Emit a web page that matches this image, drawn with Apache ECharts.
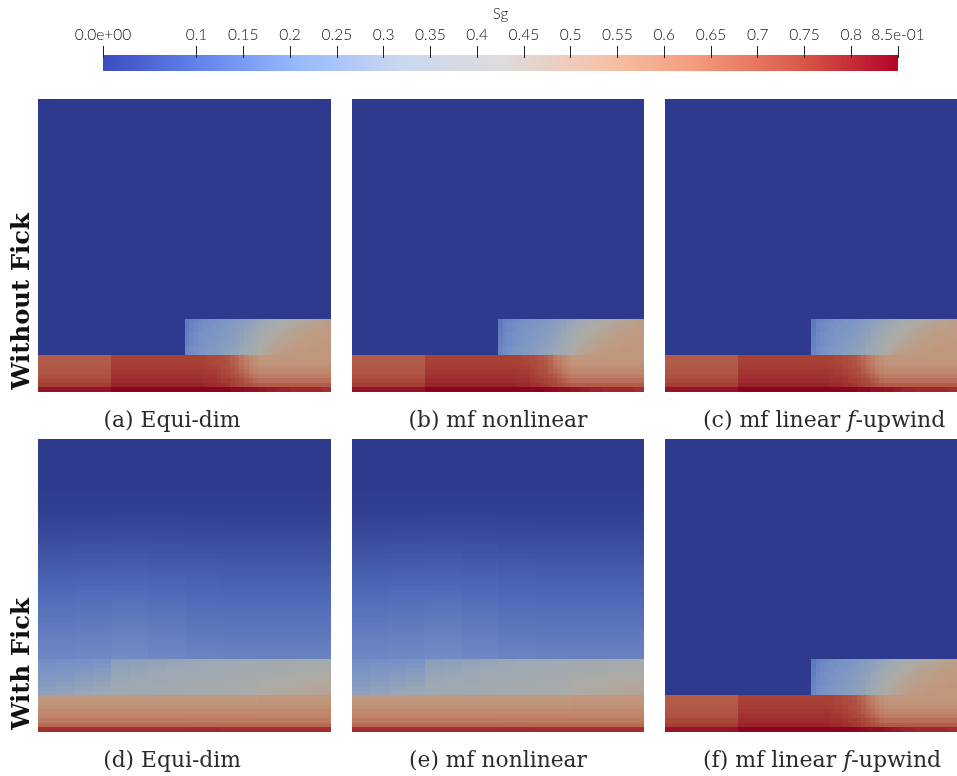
<!DOCTYPE html>
<html><head><meta charset="utf-8">
<style>html,body{margin:0;padding:0;background:#fff}#c{width:957px;height:776px}</style>
<script src="https://cdn.jsdelivr.net/npm/echarts@6/dist/echarts.min.js"></script>
</head><body><div id="c"></div>
<script>
// colour bar
const sgMax = 0.85;
const barTicks = [0,0.1,0.15,0.2,0.25,0.3,0.35,0.4,0.45,0.5,0.55,0.6,0.65,0.7,0.75,0.8,0.85];
const barLabels = ['0.0e+00','0.1','0.15','0.2','0.25','0.3','0.35','0.4','0.45','0.5','0.55','0.6','0.65','0.7','0.75','0.8','8.5e-01'];
const barColors = ['#3b4cc0','#6485ec','#9abbff','#c9d7f0','#dddcdc','#f5c4ac','#f49a7b','#da5a49','#b40426'];
const panelColors = ['#2e3a8e','#4e68b8','#7892c7','#9ca8b5','#acaba6','#c09a80','#be7860','#aa4639','#8c031e'];

// without Fick: lower-left layer (two coarse columns), top to bottom
const sharpLowerLeft = [
 [.70,.75],[.70,.755],[.705,.76],[.71,.77],[.72,.775],[.74,.785],[.76,.80],[.82,.85]];
// without Fick: upper layer right half
const sharpUpperRight = [
 [.15,.17,.18,.19,.20,.21,.21,.22,.22,.23,.24,.25,.26,.27,.28,.30,.31,.33,.35,.37,.38,.40,.41,.43,.44,.45,.46,.47,.48,.49,.50,.51],
 [.15,.18,.19,.20,.21,.21,.22,.22,.23,.24,.25,.26,.27,.28,.29,.31,.33,.35,.37,.39,.41,.42,.44,.45,.46,.47,.48,.49,.50,.50,.51,.52],
 [.16,.18,.19,.20,.21,.22,.22,.23,.24,.25,.25,.26,.27,.29,.30,.32,.35,.37,.39,.41,.43,.44,.46,.47,.48,.49,.50,.50,.51,.52,.52,.52],
 [.16,.19,.20,.21,.21,.22,.23,.24,.24,.25,.26,.27,.28,.30,.32,.34,.37,.39,.41,.43,.45,.46,.47,.48,.49,.50,.51,.52,.52,.52,.53,.53],
 [.17,.19,.20,.21,.22,.23,.23,.24,.25,.26,.27,.28,.29,.31,.33,.36,.39,.41,.43,.45,.46,.48,.49,.50,.50,.51,.52,.52,.53,.53,.53,.53],
 [.17,.19,.20,.21,.22,.23,.24,.25,.26,.26,.27,.28,.30,.32,.34,.37,.41,.43,.45,.47,.48,.49,.50,.51,.52,.52,.53,.53,.53,.53,.54,.54],
 [.18,.20,.21,.22,.23,.24,.24,.25,.26,.27,.28,.29,.31,.33,.35,.38,.42,.45,.47,.48,.49,.50,.51,.52,.53,.53,.53,.54,.54,.54,.54,.54],
 [.18,.20,.21,.22,.23,.24,.25,.26,.27,.28,.29,.30,.32,.34,.36,.39,.43,.46,.48,.50,.51,.52,.53,.53,.53,.54,.54,.54,.54,.54,.54,.54]];
// without Fick: lower layer right half
const sharpLowerRight = [
 [.75,.75,.75,.75,.75,.74,.74,.73,.72,.71,.69,.67,.64,.61,.58,.56,.54,.54,.54,.54,.54,.54,.54,.54,.54,.54,.54,.54,.54,.54,.54,.54],
 [.755,.755,.755,.75,.75,.745,.74,.735,.73,.72,.70,.68,.65,.62,.59,.57,.55,.55,.55,.55,.55,.55,.55,.55,.55,.55,.55,.55,.55,.55,.55,.55],
 [.76,.76,.76,.76,.755,.75,.75,.74,.73,.72,.71,.69,.66,.64,.61,.59,.57,.57,.57,.57,.57,.57,.57,.57,.57,.57,.57,.57,.57,.57,.57,.57],
 [.77,.77,.77,.77,.765,.76,.76,.75,.74,.73,.72,.70,.68,.66,.63,.61,.59,.59,.59,.59,.59,.59,.59,.59,.59,.59,.59,.59,.59,.59,.59,.59],
 [.775,.775,.775,.775,.77,.77,.77,.76,.75,.74,.73,.72,.70,.68,.66,.64,.62,.62,.62,.62,.62,.62,.62,.62,.62,.62,.62,.62,.62,.62,.62,.62],
 [.785,.785,.785,.785,.78,.78,.78,.77,.76,.76,.75,.74,.73,.71,.69,.67,.66,.66,.66,.66,.66,.66,.66,.66,.66,.66,.66,.66,.66,.66,.66,.66],
 [.80,.80,.80,.80,.795,.79,.79,.78,.78,.77,.76,.75,.74,.73,.72,.71,.70,.70,.70,.70,.70,.70,.70,.70,.70,.70,.70,.70,.70,.70,.70,.70],
 [.85,.85,.85,.85,.85,.85,.85,.85,.85,.85,.84,.84,.84,.83,.83,.83,.82,.82,.81,.81,.80,.80,.80,.79,.79,.79,.79,.79,.79,.79,.78,.78]];

// with Fick: region below the untouched top, above the two layers, eight coarse columns
const fickTop = [
 [.002,.002,.002,.002,.002,.002,.002,.002],
 [.004,.004,.004,.004,.004,.004,.004,.004],
 [.006,.006,.006,.006,.006,.006,.006,.006],
 [.008,.008,.008,.008,.008,.008,.008,.008],
 [.011,.011,.011,.011,.011,.011,.011,.011],
 [.014,.014,.014,.014,.014,.014,.014,.014],
 [.017,.017,.018,.018,.017,.017,.017,.017],
 [.021,.021,.022,.022,.02,.02,.02,.02],
 [.025,.025,.026,.026,.025,.024,.024,.024],
 [.03,.03,.031,.031,.029,.028,.028,.028],
 [.035,.036,.037,.036,.034,.033,.033,.033],
 [.04,.041,.042,.041,.039,.038,.038,.038],
 [.046,.047,.048,.047,.044,.043,.043,.043],
 [.051,.052,.054,.052,.049,.048,.048,.048],
 [.056,.058,.06,.058,.054,.053,.053,.053],
 [.062,.064,.066,.063,.06,.058,.058,.058],
 [.068,.07,.072,.07,.066,.064,.064,.064],
 [.075,.077,.079,.076,.072,.07,.07,.07],
 [.081,.083,.086,.082,.078,.076,.076,.076],
 [.087,.089,.092,.088,.083,.081,.081,.081],
 [.092,.095,.098,.094,.088,.086,.086,.086],
 [.098,.101,.104,.099,.094,.091,.091,.091],
 [.104,.107,.11,.105,.099,.096,.096,.096],
 [.109,.113,.116,.11,.104,.101,.101,.101],
 [.115,.118,.122,.116,.109,.106,.106,.106],
 [.12,.124,.128,.121,.114,.111,.111,.111],
 [.126,.13,.134,.127,.119,.116,.116,.116],
 [.131,.135,.14,.132,.124,.121,.121,.121],
 [.137,.141,.146,.138,.13,.126,.126,.126],
 [.142,.147,.151,.143,.135,.131,.131,.131],
 [.148,.152,.157,.149,.14,.136,.136,.136],
 [.153,.158,.163,.154,.145,.141,.141,.141],
 [.158,.163,.168,.16,.15,.146,.146,.146],
 [.164,.169,.174,.165,.155,.151,.151,.151],
 [.169,.174,.18,.17,.16,.156,.156,.156],
 [.175,.18,.185,.175,.165,.161,.161,.161],
 [.18,.185,.19,.18,.17,.166,.166,.166],
 [.185,.19,.194,.184,.174,.17,.17,.17]];
// with Fick: upper layer, sixteen columns
const fickUpper = [
 [.20,.205,.21,.215,.27,.28,.29,.30,.31,.32,.33,.34,.35,.36,.37,.38],
 [.21,.215,.22,.23,.28,.29,.30,.31,.32,.33,.34,.35,.36,.37,.38,.39],
 [.22,.23,.235,.25,.29,.30,.31,.32,.33,.34,.35,.36,.37,.38,.39,.40],
 [.23,.24,.25,.265,.30,.31,.32,.33,.34,.35,.36,.37,.39,.40,.41,.42],
 [.24,.25,.265,.28,.31,.32,.33,.34,.35,.36,.37,.38,.41,.42,.43,.44],
 [.25,.265,.28,.295,.32,.33,.34,.35,.36,.37,.38,.39,.42,.43,.44,.45],
 [.265,.28,.295,.31,.33,.34,.35,.36,.37,.38,.39,.40,.43,.44,.45,.46],
 [.28,.295,.31,.32,.34,.35,.36,.37,.38,.39,.40,.41,.44,.45,.46,.47]];
// with Fick: lower layer, eight columns
const fickLower = [
 [.53,.53,.53,.53,.53,.53,.54,.54],
 [.54,.54,.54,.54,.54,.54,.55,.55],
 [.56,.56,.56,.56,.56,.56,.565,.565],
 [.58,.58,.58,.58,.58,.58,.585,.585],
 [.60,.60,.60,.60,.605,.605,.605,.605],
 [.63,.63,.63,.63,.63,.635,.635,.635],
 [.67,.67,.67,.67,.67,.67,.67,.67],
 [.78,.78,.78,.78,.785,.78,.78,.78]];

const panelTitles = ['(a) Equi-dim','(b) mf nonlinear','(c) mf linear ','(d) Equi-dim','(e) mf nonlinear','(f) mf linear '];
const rowTitles = ['Without Fick','With Fick'];

// mesh cells: 64 x 64, y measured from the bottom
function block(rows, x0, cw, yTop, ch){
  const out=[];
  rows.forEach((r,i)=>r.forEach((v,j)=>{
    out.push([x0+j*cw, x0+(j+1)*cw, yTop-(i+1)*ch, yTop-i*ch, v]);
  }));
  return out;
}
const sharpCells = [].concat(
  block([[0]],0,64,64,48),
  block([[0]],0,32,16,8),
  block(sharpUpperRight,32,1,16,1),
  block(sharpLowerLeft,0,16,8,1),
  block(sharpLowerRight,32,1,8,1));
const fickCells = [].concat(
  block([[0]],0,64,64,10),
  block(fickTop,0,8,54,1),
  block(fickUpper,0,4,16,1),
  block(fickLower,0,8,8,1));
const panelCells = [sharpCells,sharpCells,sharpCells,fickCells,fickCells,sharpCells];

// colour-bar strip: the scale itself, drawn value by value
const barStrip=[];
for(let k=0;k<200;k++) barStrip.push([sgMax*k/200,sgMax*(k+1)/200,0,1,sgMax*(k+.5)/200]);

const lefts=[38,352,665], widths=[293,292,292], tops=[99,439], size=293;
function renderCell(params, api){
  const a=api.coord([api.value(0),api.value(3)]);
  const b=api.coord([api.value(1),api.value(2)]);
  const x=Math.round(a[0]), y=Math.round(a[1]);
  return {type:'rect',shape:{x:x,y:y,width:Math.round(b[0])-x,height:Math.round(b[1])-y},
    style:{fill:api.visual('color')}};
}
const grid=[],xAxis=[],yAxis=[],series=[];
panelCells.forEach((cells,i)=>{
  grid.push({left:lefts[i%3],top:tops[i<3?0:1],width:widths[i%3],height:size});
  xAxis.push({type:'value',gridIndex:i,min:0,max:64,show:false});
  yAxis.push({type:'value',gridIndex:i,min:0,max:64,show:false});
  series.push({type:'custom',xAxisIndex:i,yAxisIndex:i,data:cells,renderItem:renderCell,
    encode:{x:[0,1],y:[2,3]},silent:true,animation:false});
});
// colour-bar strip (index 6)
grid.push({left:103,top:55,width:795,height:16});
xAxis.push({type:'value',gridIndex:6,min:0,max:sgMax,show:false});
yAxis.push({type:'value',gridIndex:6,min:0,max:1,show:false});
series.push({type:'custom',xAxisIndex:6,yAxisIndex:6,data:barStrip,renderItem:renderCell,encode:{x:[0,1],y:[2,3]},silent:true,z:1});
// colour-bar axis (index 7)
grid.push({left:103,top:58,width:795,height:13});
xAxis.push({type:'value',gridIndex:7,min:0,max:sgMax,position:'top',z:20,
  name:'Sg',nameLocation:'middle',nameGap:36,nameTextStyle:{fontFamily:'Lato',fontWeight:300,fontSize:15,color:'#111'},
  axisLine:{show:false,onZero:false},splitLine:{show:false},
  axisTick:{show:true,length:12,lineStyle:{color:'#222',width:1},customValues:barTicks},
  axisLabel:{show:true,margin:15,fontFamily:'Lato',fontWeight:300,fontSize:15.5,color:'#111',hideOverlap:false,showMinLabel:true,showMaxLabel:true,
    customValues:barTicks,formatter:v=>{const k=barTicks.findIndex(t=>Math.abs(t-v)<1e-6);return k<0?'':barLabels[k];}}});
yAxis.push({type:'value',gridIndex:7,min:0,max:1,show:false});

const capFont='"DejaVu Serif"';
const capCentres=[172,498,825];
const graphic=[];
panelTitles.forEach((t,i)=>{
  const y=(i<3?421:761);
  const upw=i%3==2;
  const capSize=upw?22:21.8;
  graphic.push({type:'text',x:upw?703:capCentres[i%3],y:y,silent:true,style:{text:upw?t+'{i|f}-upwind':t,
    rich:{i:{fontFamily:capFont,fontStyle:'italic',fontSize:capSize,fill:'#2a2a2a'}},
    font:capSize+'px '+capFont,fill:'#2a2a2a',textAlign:upw?'left':'center',textVerticalAlign:'middle'}});
});
rowTitles.forEach((t,i)=>{
  graphic.push({type:'text',x:23,y:i?664:301.5,rotation:Math.PI/2,silent:true,
    style:{text:t,font:'bold 24.3px '+capFont,fill:'#111',textAlign:'center',textVerticalAlign:'middle'}});
});
const chart=echarts.init(document.getElementById('c'),null,{renderer:'canvas'});
chart.setOption({animation:false,backgroundColor:'#fff',grid,xAxis,yAxis,series,graphic,
  tooltip:{show:false},
  visualMap:[
    {type:'continuous',show:false,min:0,max:sgMax,dimension:4,seriesIndex:[0,1,2,3,4,5],inRange:{color:panelColors}},
    {type:'continuous',show:false,min:0,max:sgMax,dimension:4,seriesIndex:[6],inRange:{color:barColors}}
  ]});
</script></body></html>
